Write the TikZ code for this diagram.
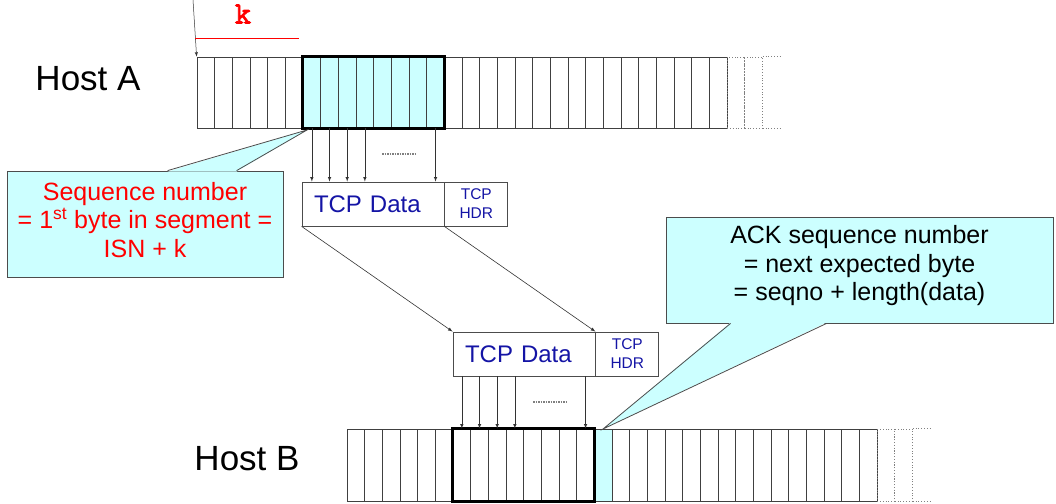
\documentclass[tikz,border=0pt]{standalone}
\usepackage{fontspec}
\setmainfont{Liberation Sans}
\newfontfamily\kfont[FakeBold=2.5]{lmmono10-regular.otf}
\usetikzlibrary{backgrounds}

\definecolor{callcyan}{HTML}{CCFFFF}
\definecolor{tcpblue}{RGB}{20,20,165}

\tikzset{
    cell/.style={draw=black!75, line width=0.8pt, minimum width=17.67pt, minimum height=71pt, inner sep=0pt},
    tailcell/.style={cell, draw=gray, dotted},
    window/.style={line width=3pt},
    link/.style={->, draw=black!80, line width=0.6pt},
    callbox/.style={draw=black!70, line width=0.8pt, fill=callcyan, inner sep=0pt},
    callside/.style={draw=black!70, line width=0.8pt},
    databox/.style={draw=black!70, line width=0.8pt, minimum height=44pt, text width=118pt, inner xsep=12pt, align=left,
        text=tcpblue, font=\fontsize{24}{28}\selectfont},
    hdrbox/.style={draw=black!70, line width=0.8pt, minimum height=44pt, minimum width=63pt, inner sep=0pt, align=center,
        text=tcpblue, font=\fontsize{15.5}{19}\selectfont},
    hostlabel/.style={font=\fontsize{35}{40}\selectfont},
    calltext/.style={align=center, font=\fontsize{25}{28.5}\selectfont}
}

\begin{document}
\begin{tikzpicture}[>=latex, x=1pt, y=-1pt]
    \useasboundingbox (0,0) rectangle (1056,503);

    % host A byte stream
    \foreach \i in {0,...,29}
    {
        \node[cell] (a\i) at (205.835+17.67*\i,92.5) {};
    }
    \foreach \i in {30,31}
    {
        \node[tailcell] (a\i) at (205.835+17.67*\i,92.5) {};
    }
    \draw[gray, dotted, line width=0.8pt] (a31.north east) -- ++(17,0) (a31.south east) -- ++(17,0);
    \begin{scope}[on background layer]
        \fill[callcyan] (a6.north west) rectangle (a13.south east);
    \end{scope}
    \draw[window] (a6.north west) rectangle (a13.south east);
    \node[hostlabel] (hostA) at (88,78.5) {Host A};

    % host B byte stream
    \foreach \i in {0,...,29}
    {
        \node[cell, minimum height=72pt] (b\i) at (355.835+17.67*\i,465) {};
    }
    \foreach \i in {30,31}
    {
        \node[tailcell, minimum height=72pt] (b\i) at (355.835+17.67*\i,465) {};
    }
    \draw[gray, dotted, line width=0.8pt] (b31.north east) -- ++(17,0) (b31.south east) -- ++(17,0);
    \begin{scope}[on background layer]
        \fill[callcyan] (b14.north west) rectangle (b14.south east);
    \end{scope}
    \draw[window] (b6.north west) rectangle (b13.south east);
    \node[hostlabel] (hostB) at (247,458.5) {Host B};

    % offset k
    \coordinate (kstart) at (193,0);
    \draw[link, line width=0.5pt] (kstart) -- (a0.north west);
    \draw[red, line width=0.6pt] (195,38) -- (299,38);
    \node[text=red, font=\kfont\fontsize{31}{31}\selectfont] (klabel) at (243,14) {k};

    % segments
    \node[databox] (dataA) at (373,204) {TCP Data};
    \node[hdrbox, anchor=west] (hdrA) at (dataA.east) {TCP\\HDR};
    \node[databox] (dataB) at (524,354) {TCP Data};
    \node[hdrbox, anchor=west] (hdrB) at (dataB.east) {TCP\\HDR};

    \foreach \i in {6,7,8,9,13}
    {
        \draw[link] (a\i.south) -- (a\i.south |- dataA.north);
        \draw[link] (b\i.north |- dataB.south) -- (b\i.north);
    }
    \draw[gray, densely dotted, line width=1.5pt] (382,154) -- (417,154);
    \draw[gray, densely dotted, line width=1.5pt] (533,402) -- (568,402);

    \draw[link] (dataA.south west) -- (dataB.north west);
    \draw[link] (dataA.south east) -- (dataB.north east);

    % callout for the sequence number
    \node[callbox, minimum width=276pt, minimum height=106pt] (seqbox) at (145,224) {};
    \coordinate (seqtip) at (307,130);
    \fill[callcyan] ([xshift=161pt,yshift=-1pt]seqbox.north west) -- (seqtip) -- ([xshift=230pt,yshift=-1pt]seqbox.north west) -- cycle;
    \draw[callside] ([xshift=161pt]seqbox.north west) -- (seqtip) -- ([xshift=230pt]seqbox.north west);
    \node[calltext, text=red] (seqtext) at ([yshift=4pt]seqbox.center)
        {Sequence number\\= 1\textsuperscript{st} byte in segment =\\ISN + k};

    % callout for the ack number
    \node[callbox, minimum width=387pt, minimum height=106pt] (ackbox) at (859.5,270) {};
    \coordinate (acktip) at (603,429);
    \fill[callcyan] ([xshift=65pt,yshift=1pt]ackbox.south west) -- (acktip) -- ([xshift=161pt,yshift=1pt]ackbox.south west) -- cycle;
    \draw[callside] ([xshift=65pt]ackbox.south west) -- (acktip) -- ([xshift=161pt]ackbox.south west);
    \node[calltext] (acktext) at ([yshift=4pt]ackbox.center)
        {ACK sequence number\\= next expected byte\\= seqno + length(data)};

\end{tikzpicture}
\end{document}
